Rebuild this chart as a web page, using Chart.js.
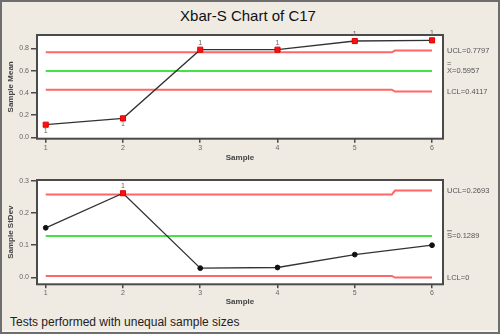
<!DOCTYPE html>
<html>
<head>
<meta charset="utf-8">
<script src="https://cdn.jsdelivr.net/npm/chart.js@4.4.1/dist/chart.umd.min.js"></script>
<style>
  html, body { margin: 0; padding: 0; }
  body { width: 500px; height: 334px; overflow: hidden; background: #efebe3; position: relative; font-family: "Liberation Sans", Arial, sans-serif; }
  #border { position: absolute; left: 0; top: 0; width: 500px; height: 334px; box-sizing: border-box; border: 2px solid #6e6e6e; box-shadow: inset 0 -2px 0 #f7f5f1; pointer-events: none; z-index: 5; }
  #title { position: absolute; left: 0; top: 6px; width: 496px; text-align: center; font-size: 15px; line-height: 20px; color: #111; }
  #foot { position: absolute; left: 10px; top: 315px; font-size: 12px; line-height: 14px; color: #222; }
  .panel { position: absolute; left: 0; }
  #meanBox { top: 0; }
  #sdBox { top: 166px; }
</style>
</head>
<body>
<div id="title">Xbar-S Chart of C17</div>
<div class="panel" id="meanBox"><canvas id="meanChart" width="500" height="166"></canvas></div>
<div class="panel" id="sdBox"><canvas id="sdChart" width="500" height="144"></canvas></div>
<div id="foot">Tests performed with unequal sample sizes</div>
<div id="border"></div>
<script>
// Subgroup numbers and statistics
const samples = [1, 2, 3, 4, 5, 6];
const sampleMeans = [0.113, 0.170, 0.788, 0.788, 0.866, 0.872];
const sampleStDevs = [0.154, 0.261, 0.029, 0.031, 0.071, 0.100];

// Control limits (they change for the last subgroup, which has a different size)
const limitX = [1, 5.48, 5.52, 6];
const meanUCL = [0.764, 0.764, 0.7797, 0.7797];
const meanLCL = [0.428, 0.428, 0.4117, 0.4117];
const meanCenter = 0.5957;
const sdUCL = [0.257, 0.257, 0.2693, 0.2693];
const sdLCL = [0.005, 0.005, 0, 0];
const sdCenter = 0.1289;

// Test 1 failures (point beyond the limits)
const meanFlags = [1, 1, 1, 1, 1, 1];
const sdFlags = [0, 1, 0, 0, 0, 0];

// Axis ticks
const sampleTicks = [1, 2, 3, 4, 5, 6];
const meanTicks = [0, 0.2, 0.4, 0.6, 0.8];
const sdTicks = [0, 0.1, 0.2, 0.3];

const FONT = '"Liberation Sans", Arial, sans-serif';
const RED = '#ff6666';
const GREEN = '#44e444';
const AXIS = '#4a4a4a';

const pairs = (xs, ys) => xs.map((x, i) => ({ x, y: ys[i] }));

const panelPlugin = {
  id: 'panel',
  beforeDatasetsDraw(chart) {
    const { ctx, chartArea: a } = chart;
    ctx.save();
    ctx.fillStyle = '#ffffff';
    ctx.fillRect(a.left, a.top, a.right - a.left, a.bottom - a.top);
    ctx.restore();
  },
  afterDraw(chart, args, opts) {
    const { ctx, chartArea: a } = chart;
    const y = chart.scales.y, x = chart.scales.x;
    ctx.save();
    // plot frame
    ctx.strokeStyle = AXIS;
    ctx.lineWidth = 2;
    ctx.strokeRect(a.left, a.top, a.right - a.left, a.bottom - a.top);

    // test failure markers
    ctx.fillStyle = '#666';
    ctx.font = '7px ' + FONT;
    ctx.textAlign = 'center';
    ctx.textBaseline = 'middle';
    opts.values.forEach((v, i) => {
      if (!opts.flags[i]) return;
      const px = x.getPixelForValue(samples[i]);
      const py = y.getPixelForValue(v);
      const below = v < opts.center;
      ctx.fillText('1', px, below ? py + 6 : py - 7);
    });

    // limit labels
    ctx.fillStyle = '#555';
    ctx.font = '7.5px ' + FONT;
    ctx.textAlign = 'left';
    opts.labels.forEach(l => {
      const py = y.getPixelForValue(l.value);
      const lx = a.right + 4;
      ctx.fillText(l.text, lx, py);
      if (l.mark === 'double') {
        ctx.fillText('=', lx, py - 7);
      } else if (l.mark === 'bar') {
        ctx.fillRect(lx, py - 5.5, 5, 0.8);
      }
    });
    ctx.restore();
  }
};

function xScale() {
  return {
    type: 'linear',
    min: 0.887,
    max: 6.142,
    afterBuildTicks: s => { s.ticks = sampleTicks.map(v => ({ value: v })); },
    afterFit: s => { s.height = 27.3; },
    grid: { drawOnChartArea: false, drawTicks: true, tickLength: 4, color: AXIS, lineWidth: 1.5 },
    border: { display: false },
    ticks: { color: '#666', font: { family: FONT, size: 7 }, padding: 1, maxRotation: 0, callback: v => String(v) },
    title: { display: true, text: 'Sample', color: '#444', font: { family: FONT, size: 8, weight: 'bold' }, padding: { top: 0, bottom: 3 } }
  };
}

function yScale(min, max, ticks, title) {
  return {
    type: 'linear',
    min, max,
    afterBuildTicks: s => { s.ticks = ticks.map(v => ({ value: v })); },
    afterFit: s => { s.width = 37; },
    grid: { drawOnChartArea: false, drawTicks: true, tickLength: 6, color: AXIS, lineWidth: 1.5 },
    border: { display: false },
    ticks: { color: '#666', font: { family: FONT, size: 7 }, padding: 2, callback: v => v.toFixed(1) },
    title: { display: true, text: title, color: '#444', font: { family: FONT, size: 8, weight: 'bold' }, padding: { top: 6, bottom: 0 } }
  };
}

function limitSet(data, color) {
  return { data, borderColor: color, borderWidth: 2, pointRadius: 0, fill: false, tension: 0 };
}

// Xbar chart
new Chart(document.getElementById('meanChart'), {
  type: 'line',
  data: {
    datasets: [
      {
        data: pairs(samples, sampleMeans),
        borderColor: '#333', borderWidth: 1.3,
        pointStyle: 'rect', pointRadius: 3.6,
        pointBackgroundColor: '#ff1010', pointBorderColor: '#dd0000', pointBorderWidth: 1
      },
      limitSet(pairs(limitX, meanUCL), RED),
      limitSet(pairs([1, 6], [meanCenter, meanCenter]), GREEN),
      limitSet(pairs(limitX, meanLCL), RED)
    ]
  },
  options: {
    responsive: false, animation: false,
    layout: { padding: { top: 35, right: 57, left: 0, bottom: 0 } },
    scales: { x: xScale(), y: yScale(-0.013, 0.92, meanTicks, 'Sample Mean') },
    plugins: {
      legend: { display: false }, tooltip: { enabled: false },
      panel: {
        values: sampleMeans, flags: meanFlags, center: meanCenter,
        labels: [
          { value: 0.7797, text: 'UCL=0.7797' },
          { value: meanCenter, text: 'X=0.5957', mark: 'double' },
          { value: 0.4117, text: 'LCL=0.4117' }
        ]
      }
    }
  },
  plugins: [panelPlugin]
});

// S chart
new Chart(document.getElementById('sdChart'), {
  type: 'line',
  data: {
    datasets: [
      {
        data: pairs(samples, sampleStDevs),
        borderColor: '#333', borderWidth: 1.3,
        pointStyle: c => sdFlags[c.dataIndex] ? 'rect' : 'circle',
        pointRadius: c => sdFlags[c.dataIndex] ? 3.6 : 2.4,
        pointBackgroundColor: c => sdFlags[c.dataIndex] ? '#ff1010' : '#111',
        pointBorderColor: c => sdFlags[c.dataIndex] ? '#dd0000' : '#111',
        pointBorderWidth: 1
      },
      limitSet(pairs(limitX, sdUCL), RED),
      limitSet(pairs([1, 6], [sdCenter, sdCenter]), GREEN),
      limitSet(pairs(limitX, sdLCL), RED)
    ]
  },
  options: {
    responsive: false, animation: false,
    layout: { padding: { top: 14, right: 57, left: 0, bottom: 0 } },
    scales: {
      x: Object.assign(xScale(), { afterFit: s => { s.height = 25.7; } }),
      y: yScale(-0.021, 0.302, sdTicks, 'Sample StDev')
    },
    plugins: {
      legend: { display: false }, tooltip: { enabled: false },
      panel: {
        values: sampleStDevs, flags: sdFlags, center: sdCenter,
        labels: [
          { value: 0.2693, text: 'UCL=0.2693' },
          { value: sdCenter, text: 'S=0.1289', mark: 'bar' },
          { value: 0, text: 'LCL=0' }
        ]
      }
    }
  },
  plugins: [panelPlugin]
});
</script>
</body>
</html>
